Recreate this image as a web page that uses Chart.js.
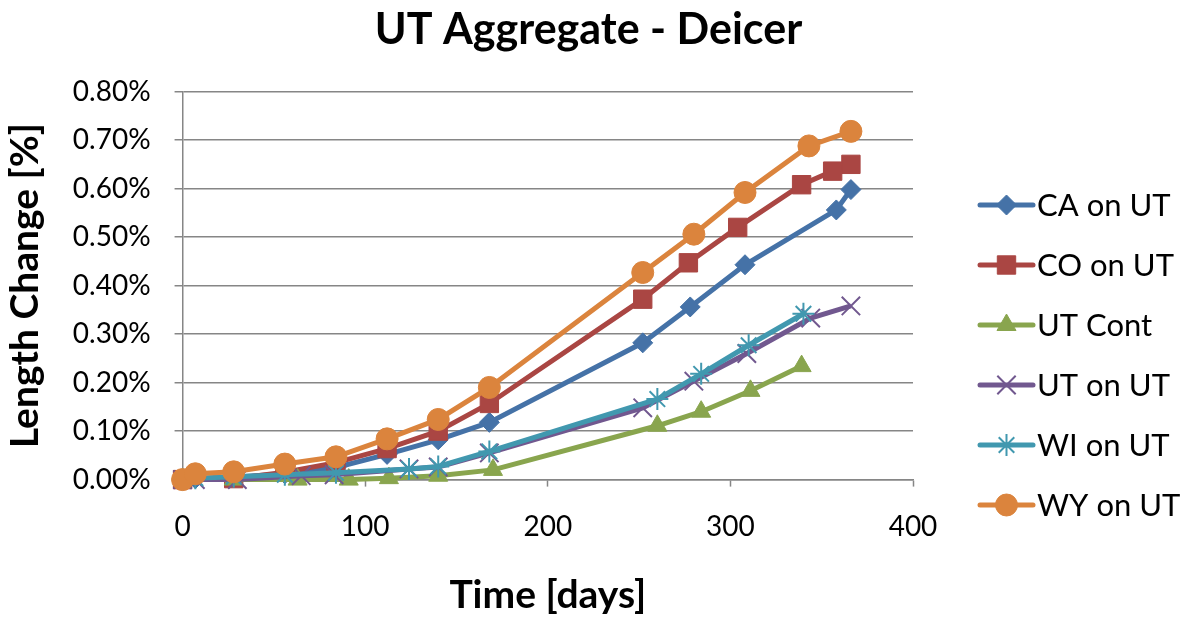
<!DOCTYPE html>
<html>
<head>
<meta charset="utf-8">
<script src="https://cdn.jsdelivr.net/npm/chart.js@4"></script>
<style>
    body { margin: 0; background: #fff; }
    #wrap { width: 1195px; height: 619px; position: relative; }
</style>
</head>
<body>
<div id="wrap"><canvas id="deicerChart"></canvas></div>
<script>
// days and length change (%) for each aggregate pair
const caDays = [0, 7, 28, 56, 84, 112, 140, 168, 252, 278, 308, 358, 366]
const caVals = [0, 0.002, 0.005, 0.012, 0.025, 0.052, 0.082, 0.118, 0.282, 0.356, 0.443, 0.556, 0.598]

const coDays = [0, 28, 56, 84, 112, 140, 168, 252, 277, 304, 339, 356, 366]
const coVals = [0, 0.002, 0.015, 0.035, 0.064, 0.100, 0.157, 0.372, 0.447, 0.520, 0.608, 0.636, 0.650]

const contDays = [0, 28, 63, 91, 113, 140, 170, 260, 284, 311, 339]
const contVals = [0, 0, 0, 0, 0.003, 0.008, 0.020, 0.111, 0.140, 0.183, 0.234]

const utDays = [0, 7, 30, 65, 83, 124, 140, 168, 252, 280, 309, 344, 366]
const utVals = [0, 0, 0, 0.008, 0.010, 0.022, 0.026, 0.055, 0.148, 0.203, 0.260, 0.333, 0.358]

const wiDays = [0, 7, 28, 56, 84, 124, 140, 168, 260, 284, 310, 340]
const wiVals = [0, 0.003, 0.006, 0.010, 0.014, 0.022, 0.027, 0.058, 0.166, 0.218, 0.277, 0.342]

const wyDays = [0, 7, 28, 56, 84, 112, 140, 168, 252, 280, 308, 343, 366]
const wyVals = [0, 0.012, 0.016, 0.032, 0.047, 0.084, 0.124, 0.190, 0.427, 0.506, 0.592, 0.688, 0.718]

const yTicks = [0, 0.1, 0.2, 0.3, 0.4, 0.5, 0.6, 0.7, 0.8]

const FONT = "Lato, 'Open Sans', sans-serif"
const GRID = "#868686"

function points(days, vals) {
    return days.map((d, i) => ({ x: d, y: vals[i] }))
}

function series(label, days, vals, color, style, radius, order) {
    const hollow = style === "crossRot" || style === "star"
    return {
        label: label,
        data: points(days, vals),
        borderColor: color,
        backgroundColor: color,
        borderWidth: 5,
        pointStyle: style,
        pointRadius: radius,
        pointHoverRadius: radius,
        pointBorderWidth: hollow ? 2 : 1,
        pointBackgroundColor: color,
        pointBorderColor: color,
        tension: 0,
        clip: false,
        order: order
    }
}

// legend on the right: line sample with the marker in the middle
const sideLegend = {
    id: "sideLegend",
    afterDraw(chart) {
        const ctx = chart.ctx
        const x0 = 980, x1 = 1033
        chart.data.datasets.forEach((ds, i) => {
            const y = 205 + i * 60
            ctx.save()
            ctx.strokeStyle = ds.borderColor
            ctx.lineWidth = 5
            ctx.lineCap = "round"
            ctx.beginPath()
            ctx.moveTo(x0, y)
            ctx.lineTo(x1, y)
            ctx.stroke()
            ctx.fillStyle = ds.pointBackgroundColor
            ctx.strokeStyle = ds.pointBorderColor
            ctx.lineWidth = ds.pointBorderWidth
            ctx.lineCap = "butt"
            Chart.helpers.drawPoint(ctx, {
                pointStyle: ds.pointStyle,
                radius: ds.pointRadius,
                rotation: 0,
                borderWidth: ds.pointBorderWidth
            }, (x0 + x1) / 2, y)
            ctx.fillStyle = "#000"
            ctx.font = "31px " + FONT
            ctx.textBaseline = "middle"
            ctx.textAlign = "left"
            ctx.fillText(ds.label, x1 + 4, y + 1)
            ctx.restore()
        })
    }
}

new Chart(document.getElementById("deicerChart"), {
    type: "line",
    data: {
        datasets: [
            series("CA on UT", caDays, caVals, "#4572A7", "rectRot", 10, 5),
            series("CO on UT", coDays, coVals, "#AA4643", "rect", 13, 4),
            series("UT Cont", contDays, contVals, "#89A54E", "triangle", 11, 3),
            series("UT on UT", utDays, utVals, "#71588F", "crossRot", 13, 2),
            series("WI on UT", wiDays, wiVals, "#4198AF", "star", 11, 1),
            series("WY on UT", wyDays, wyVals, "#DB843D", "circle", 11, 0)
        ]
    },
    options: {
        responsive: true,
        maintainAspectRatio: false,
        animation: false,
        layout: {
            padding: { left: 2, right: 20, top: 2, bottom: 0 }
        },
        plugins: {
            legend: { display: false },
            tooltip: { enabled: false },
            title: {
                display: true,
                text: "UT Aggregate - Deicer",
                color: "#000",
                font: { family: FONT, size: 43, weight: "bold" },
                padding: { top: 2, bottom: 36 }
            }
        },
        scales: {
            x: {
                type: "linear",
                min: 0,
                max: 400,
                ticks: {
                    stepSize: 100,
                    color: "#000",
                    padding: 24,
                    font: { family: FONT, size: 28 }
                },
                grid: {
                    drawOnChartArea: false,
                    tickLength: 7,
                    tickColor: GRID,
                    tickWidth: 1.5
                },
                border: { color: GRID, width: 1.5 },
                title: {
                    display: true,
                    text: "Time [days]",
                    color: "#000",
                    font: { family: FONT, size: 39, weight: "bold" },
                    padding: { top: 4, bottom: 0 }
                }
            },
            y: {
                min: 0,
                max: 0.8,
                afterBuildTicks: axis => {
                    axis.ticks = yTicks.map(v => ({ value: v }))
                },
                ticks: {
                    color: "#000",
                    padding: 24,
                    font: { family: FONT, size: 28 },
                    callback: v => v.toFixed(2) + "%"
                },
                grid: {
                    color: GRID,
                    lineWidth: 1.5,
                    tickLength: 8
                },
                border: { color: GRID, width: 1.5 },
                title: {
                    display: true,
                    text: "Length Change [%]",
                    color: "#000",
                    font: { family: FONT, size: 39, weight: "bold" },
                    padding: { top: 0, bottom: 0 }
                }
            },
            // empty box on the right that keeps room for the legend
            legendRoom: {
                type: "linear",
                position: "right",
                display: true,
                grid: { display: false },
                border: { display: false },
                ticks: { display: false },
                afterFit: axis => { axis.width = 262 }
            }
        }
    },
    plugins: [sideLegend]
})
</script>
</body>
</html>
